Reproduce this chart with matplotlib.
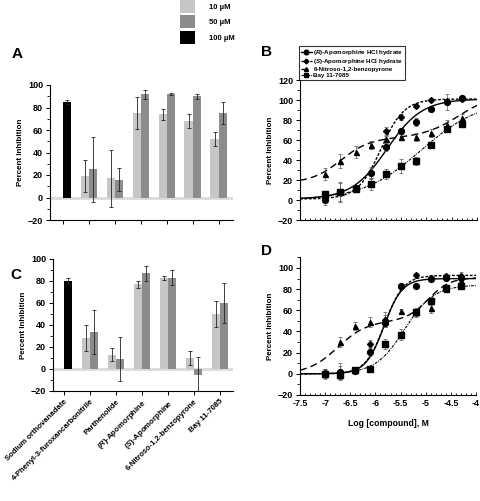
import numpy as np
import matplotlib
matplotlib.use("Agg")
import matplotlib.pyplot as plt
from matplotlib.patches import Patch
from matplotlib.lines import Line2D
from matplotlib.ticker import MultipleLocator

plt.rcParams['font.family'] = ['Liberation Sans', 'DejaVu Sans']
plt.rcParams['font.weight'] = 'bold'
plt.rcParams['axes.labelweight'] = 'bold'
plt.rcParams['mathtext.fontset'] = 'custom'
plt.rcParams['mathtext.rm'] = 'Liberation Sans:bold'
plt.rcParams['mathtext.it'] = 'Liberation Sans:italic:bold'

# ---------------- bar data (panels A, C) ----------------
compounds = ['Sodium orthovanadate', '4-Phenyl-3-furoxancarbonitrile', 'Parthenolide',
             r'($\it{R}$)-Apomorphine', r'($\it{S}$)-Apomorphine',
             '6-Nitroso-1,2-benzopyrone', 'Bay 11-7085']
conc_labels = ['10 µM', '50 µM', '100 µM']

A_10 = [np.nan, 19, 17, 75, 74, 68, 52]
A_10_err = [np.nan, 14, 25, 14, 5, 6, 6]
A_50 = [np.nan, 25, 16, 92, 92, 90, 75]
A_50_err = [np.nan, 29, 10, 4, 1, 2, 10]
A_100 = [85, np.nan, np.nan, np.nan, np.nan, np.nan, np.nan]
A_100_err = [2, np.nan, np.nan, np.nan, np.nan, np.nan, np.nan]

C_10 = [np.nan, 28, 13, 77, 83, 10, 50]
C_10_err = [np.nan, 12, 6, 3, 2, 6, 12]
C_50 = [np.nan, 34, 9, 87, 83, -5, 60]
C_50_err = [np.nan, 20, 20, 7, 7, 16, 18]
C_100 = [80, np.nan, np.nan, np.nan, np.nan, np.nan, np.nan]
C_100_err = [3, np.nan, np.nan, np.nan, np.nan, np.nan, np.nan]

# ---------------- dose-response data (panels B, D) ----------------
series_names = [r'($\it{R}$)-Apomorphine HCl hydrate', r'($\it{S}$)-Apomorphine HCl hydrate',
                '6-Nitroso-1,2-benzopyrone', 'Bay 11-7085']
log_conc = [-7.0, -6.7, -6.4, -6.1, -5.8, -5.5, -5.2, -4.9, -4.6, -4.3]

B_R = [0, 8, 12, 27, 53, 69, 78, 91, 98, 102]
B_R_err = [5, 10, 3, 6, 4, 3, 4, 2, 8, 2]
B_S = [3, 8, 12, 27, 69, 83, 94, 100, 99, 101]
B_S_err = [4, 9, 3, 5, 4, 3, 2, 2, 2, 2]
B_N = [26, 39, 48, 55, 61, 63, 63, 67, 75, 82]
B_N_err = [6, 7, 6, 4, 3, 3, 4, 4, 5, 4]
B_Bay = [6, 8, 11, 16, 26, 34, 39, 55, 71, 76]
B_Bay_err = [3, 3, 3, 6, 5, 7, 4, 3, 3, 3]

D_R = [0, 1.5, 3, 21, 48, 83, 83, 90, 91, 91]
D_R_err = [5, 6, 3, 4, 4, 2, 2, 2, 2, 2]
D_S = [0.5, 2, 3.5, 28, 51, 82, 93, 91, 92, 92]
D_S_err = [4, 8, 3, 4, 7, 2, 2, 2, 2, 4]
D_N = [0.5, 30, 45, 49, 52, 59, 58, 62, 80, 88]
D_N_err = [3, 5, 4, 5, 4, 2, 3, 5, 2, 4]
D_Bay = [0, -1, 3.5, 5, 28, 37, 58, 69, 81, 83]
D_Bay_err = [3, 4, 3, 2, 5, 5, 4, 4, 3, 2]

# fitted curve parameters: bottom, [amp, logEC50, hill] per site
B_fit = [
    (1, [(100, -5.78, 1.25)]),
    (1, [(100, -5.90, 1.9)]),
    (17, [(45, -6.7, 1.5), (45, -4.35, 1.2)]),
    (0, [(100, -5.10, 0.75)]),
]
D_fit = [
    (0, [(90, -5.83, 2.4)]),
    (0, [(93, -5.82, 2.3)]),
    (0, [(50, -6.75, 1.5), (41, -4.95, 2.0)]),
    (0, [(84, -5.42, 1.5)]),
]

def curve(x, params):
    bottom, sites = params
    y = np.full_like(x, bottom, dtype=float)
    for amp, ec, h in sites:
        y = y + amp / (1 + 10 ** ((ec - x) * h))
    return y

light = '#c6c6c6'
dark = '#8c8c8c'
black = '#000000'

W, H = 480, 501
fig = plt.figure(figsize=(W / 100, H / 100), dpi=100)

def fr(l, t, r, b):
    return [l / W, 1 - b / H, (r - l) / W, (b - t) / H]

def bar_panel(ax, v10, e10, v50, e50, v100, e100, xlim):
    x = np.arange(len(compounds))
    bw = 0.32
    ax.axhline(0, color='#dadada', lw=2.0, zorder=1)
    ekw = dict(elinewidth=0.6, capsize=1.5, capthick=0.6, ecolor='#222222')
    ax.bar(x - bw / 2, v10, bw, yerr=e10, color=light, zorder=2, error_kw=ekw)
    ax.bar(x + bw / 2, v50, bw, yerr=e50, color=dark, zorder=2, error_kw=ekw)
    ax.bar(x + bw / 2, v100, bw, yerr=e100, color=black, zorder=2, error_kw=ekw)
    ax.set_xlim(*xlim)
    ax.set_ylim(-20, 100)
    ax.set_xticks(x)
    ax.yaxis.set_major_locator(MultipleLocator(20))
    ax.yaxis.set_minor_locator(MultipleLocator(10))
    for s in ['top', 'right']:
        ax.spines[s].set_visible(False)
    ax.tick_params(axis='both', direction='out', width=0.7, length=3, labelsize=6.5, pad=2)
    ax.tick_params(axis='y', which='minor', length=2, width=0.6)
    ax.set_ylabel('Percent Inhibition', fontsize=5.8, labelpad=3)

axA = fig.add_axes(fr(50, 85, 233, 220))
bar_panel(axA, A_10, A_10_err, A_50, A_50_err, A_100, A_100_err, (-0.5, 6.55))
axA.set_xticklabels([])

axC = fig.add_axes(fr(53, 259, 233, 391))
bar_panel(axC, C_10, C_10_err, C_50, C_50_err, C_100, C_100_err, (-0.42, 6.5))
axC.set_xticklabels(compounds, rotation=45, ha='right', va='top',
                    rotation_mode='anchor', fontsize=5.6)

markers = ['o', 'D', '^', 's']
msizes = [4.2, 3.0, 3.6, 4.0]
lstyles = ['-', (0, (2, 1.2)), (0, (5, 3)), (0, (2.5, 1, 0.8, 1))]
lwidths = [1.0, 1.0, 1.0, 0.8]

def dr_panel(ax, ys, errs, fits, ylim):
    xs = np.linspace(-7.5, -4.0, 300)
    for i in range(4):
        ax.plot(xs, curve(xs, fits[i]), color='black', ls=lstyles[i], lw=lwidths[i], zorder=2)
        ax.errorbar(log_conc, ys[i], yerr=errs[i], fmt=markers[i], ms=msizes[i],
                    color='black', ecolor='#555555', elinewidth=0.5, capsize=1.3,
                    capthick=0.5, zorder=3)
    ax.set_xlim(-7.5, -4)
    ax.set_ylim(*ylim)
    ax.xaxis.set_major_locator(MultipleLocator(0.5))
    ax.xaxis.set_minor_locator(MultipleLocator(0.1))
    ax.yaxis.set_major_locator(MultipleLocator(20))
    ax.yaxis.set_minor_locator(MultipleLocator(10))
    for s in ['top', 'right']:
        ax.spines[s].set_visible(False)
    ax.tick_params(axis='y', direction='out', width=0.7, length=3, labelsize=6.5, pad=2)
    ax.tick_params(axis='y', which='minor', direction='out', length=2, width=0.6)
    ax.tick_params(axis='x', which='both', direction='in', width=0.6, length=2.5, labelsize=6.5, pad=3)
    ax.tick_params(axis='x', which='minor', length=1.5)
    ax.set_ylabel('Percent Inhibition', fontsize=5.8, labelpad=3)

axB = fig.add_axes(fr(300, 80, 477, 220))
dr_panel(axB, [B_R, B_S, B_N, B_Bay], [B_R_err, B_S_err, B_N_err, B_Bay_err], B_fit, (-20, 120))
axB.set_xticklabels([])

axD = fig.add_axes(fr(300, 257.4, 476, 395))
dr_panel(axD, [D_R, D_S, D_N, D_Bay], [D_R_err, D_S_err, D_N_err, D_Bay_err], D_fit, (-20, 110))
axD.set_xticks(np.arange(-7.5, -3.9, 0.5))
axD.set_xticklabels([f'{v:g}' for v in np.arange(-7.5, -3.9, 0.5)])
axD.set_xlabel('Log [compound], M', fontsize=6.2, labelpad=8)

# legend for B
handles = [Line2D([0], [0], color='black', ls=lstyles[i], lw=lwidths[i],
                  marker=markers[i], ms=msizes[i] * 0.8) for i in range(4)]
leg = fig.legend(handles, series_names, loc='upper left',
                 bbox_to_anchor=(299 / W, 1 - 46 / H), fontsize=4.5,
                 frameon=True, fancybox=False, borderpad=0.3, labelspacing=0.1,
                 handlelength=1.7, handletextpad=0.3, borderaxespad=0)
leg.get_frame().set_edgecolor('black')
leg.get_frame().set_linewidth(0.8)

# legend for concentrations
ph = [Patch(facecolor=c, edgecolor='none') for c in [light, dark, black]]
leg2 = fig.legend(ph, conc_labels, loc='upper left', bbox_to_anchor=(180 / W, 1 - 0 / H),
                  frameon=False, fontsize=5.5, handlelength=2.0, handleheight=2.2,
                  labelspacing=0.35, handletextpad=1.8, borderpad=0, borderaxespad=0)

# panel letters
for lbl, (x, y) in zip('ABCD', [(12, 58), (261, 56), (10, 279), (261, 255)]):
    fig.text(x / W, 1 - y / H, lbl, fontsize=11, fontweight='bold', ha='left', va='baseline')

fig.savefig('out.png', dpi=100)
